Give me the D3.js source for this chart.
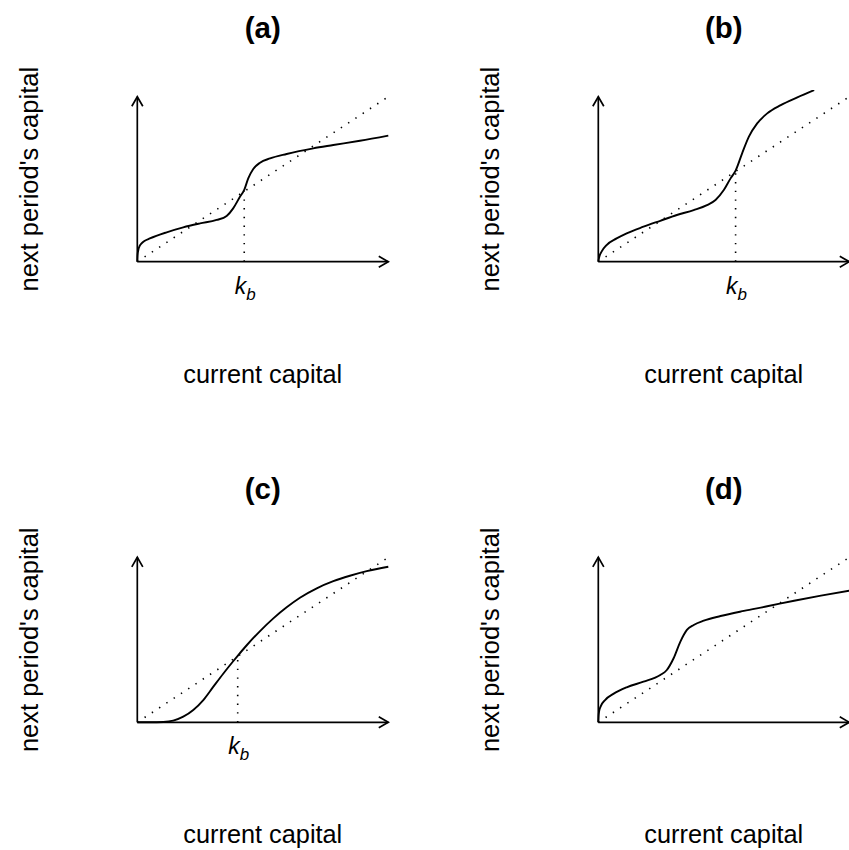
<!DOCTYPE html>
<html>
<head>
<meta charset="utf-8">
<script src="https://cdn.jsdelivr.net/npm/d3@7"></script>
<style>
  html, body { margin: 0; padding: 0; background: #fff; }
  svg { display: block; }
  text { font-family: "Liberation Sans", Arial, Helvetica, sans-serif; fill: #000; }
</style>
</head>
<body>
<svg id="fig" width="849" height="850"></svg>
<script>
// Capital transition curves k' = f(k) for four cases.
const panelTitles = ["(a)", "(b)", "(c)", "(d)"];
const xLabel = "current capital";
const yLabel = "next period's capital";

const capitalA = [0, 0.001, 0.004, 0.009, 0.017, 0.030, 0.050, 0.117, 0.183, 0.250, 0.316, 0.356, 0.382, 0.409, 0.426, 0.442, 0.462, 0.489, 0.529, 0.595, 0.701, 0.781, 0.887, 1.0];
const nextA    = [0, 0.038, 0.071, 0.094, 0.111, 0.127, 0.141, 0.178, 0.208, 0.232, 0.253, 0.277, 0.323, 0.394, 0.435, 0.505, 0.562, 0.600, 0.626, 0.653, 0.687, 0.707, 0.733, 0.764];

const capitalB = [0, 0.004, 0.013, 0.033, 0.073, 0.113, 0.180, 0.247, 0.313, 0.380, 0.433, 0.467, 0.500, 0.527, 0.547, 0.573, 0.600, 0.633, 0.673, 0.727, 0.793, 0.860];
const nextB    = [0, 0.030, 0.061, 0.101, 0.141, 0.172, 0.212, 0.248, 0.283, 0.313, 0.343, 0.374, 0.434, 0.505, 0.552, 0.657, 0.758, 0.838, 0.899, 0.949, 0.996, 1.040];

const capitalC = [0, 0.050, 0.104, 0.143, 0.183, 0.223, 0.263, 0.303, 0.343, 0.382, 0.400, 0.436, 0.489, 0.542, 0.595, 0.648, 0.715, 0.781, 0.847, 0.914, 1.0];
const nextC    = [0, 0.000, 0.002, 0.010, 0.034, 0.075, 0.135, 0.216, 0.296, 0.370, 0.403, 0.467, 0.553, 0.630, 0.697, 0.755, 0.812, 0.855, 0.888, 0.916, 0.943];

const capitalD = [0, 0.001, 0.003, 0.009, 0.027, 0.060, 0.113, 0.180, 0.247, 0.273, 0.300, 0.327, 0.353, 0.380, 0.420, 0.487, 0.580, 0.673, 0.780, 0.887, 1.0];
const nextD    = [0, 0.035, 0.065, 0.095, 0.135, 0.172, 0.212, 0.246, 0.287, 0.317, 0.388, 0.489, 0.560, 0.590, 0.616, 0.644, 0.675, 0.703, 0.737, 0.768, 0.798];

// threshold capital k_b (null: no threshold marked)
const thresholds = [0.426, 0.547, 0.400, null];

const panels = [
  { title: panelTitles[0], k: capitalA, f: nextA, kb: thresholds[0], col: 0, row: 0 },
  { title: panelTitles[1], k: capitalB, f: nextB, kb: thresholds[1], col: 1, row: 0 },
  { title: panelTitles[2], k: capitalC, f: nextC, kb: thresholds[2], col: 0, row: 1 },
  { title: panelTitles[3], k: capitalD, f: nextD, kb: thresholds[3], col: 1, row: 1 }
];

// geometry of the 2x2 grid
const originX = [137.3, 598.3];
const originY = [261.7, 722.3];
const unitW = 251, unitH = 165;
const pad = 0.04;

const svg = d3.select("#fig");

function arrow(g, x1, y1, x2, y2) {
  const len = 11, ang = Math.PI / 6;
  const th = Math.atan2(y2 - y1, x2 - x1);
  g.append("line").attr("x1", x1).attr("y1", y1).attr("x2", x2).attr("y2", y2)
    .attr("stroke", "#000").attr("stroke-width", 1.7);
  const p = d3.path();
  p.moveTo(x2 - len * Math.cos(th - ang), y2 - len * Math.sin(th - ang));
  p.lineTo(x2, y2);
  p.lineTo(x2 - len * Math.cos(th + ang), y2 - len * Math.sin(th + ang));
  g.append("path").attr("d", p.toString()).attr("fill", "none")
    .attr("stroke", "#000").attr("stroke-width", 1.7).attr("stroke-linejoin", "miter");
}

panels.forEach((pn, i) => {
  const ox = originX[pn.col], oy = originY[pn.row];
  const x = d3.scaleLinear().domain([-pad, 1 + pad]).range([ox - pad * unitW, ox + (1 + pad) * unitW]);
  const y = d3.scaleLinear().domain([-pad, 1 + pad]).range([oy + pad * unitH, oy - (1 + pad) * unitH]);
  const g = svg.append("g");

  const clipId = "plotclip" + i;
  g.append("clipPath").attr("id", clipId).append("rect")
    .attr("x", x(-pad)).attr("y", y(1 + pad))
    .attr("width", x(1 + pad) - x(-pad)).attr("height", y(-pad) - y(1 + pad));

  // 45-degree line
  g.append("line")
    .attr("x1", x(0)).attr("y1", y(0)).attr("x2", x(1)).attr("y2", y(1))
    .attr("stroke", "#000").attr("stroke-width", 1.6)
    .attr("stroke-dasharray", "1.4,7.3").attr("stroke-linecap", "butt");

  // threshold marker
  if (pn.kb !== null) {
    g.append("line")
      .attr("x1", x(pn.kb)).attr("y1", y(0)).attr("x2", x(pn.kb)).attr("y2", y(pn.kb))
      .attr("stroke", "#000").attr("stroke-width", 1.6)
      .attr("stroke-dasharray", "1.4,7.3");
    const t = g.append("text")
      .attr("x", x(pn.kb) + 1).attr("y", oy + 32)
      .attr("text-anchor", "middle").attr("font-style", "italic");
    t.append("tspan").attr("font-size", 23).text("k");
    t.append("tspan").attr("font-size", 17).attr("dy", 6).text("b");
  }

  // axes
  arrow(g, x(0), y(0), x(1), y(0));
  arrow(g, x(0), y(0), x(0), y(1));

  // transition curve
  const line = d3.line()
    .x((d, j) => x(pn.k[j]))
    .y(d => y(d))
    .curve(d3.curveMonotoneX);
  g.append("path")
    .attr("d", line(pn.f))
    .attr("clip-path", "url(#" + clipId + ")")
    .attr("fill", "none").attr("stroke", "#000").attr("stroke-width", 1.9);

  // titles and axis labels
  const cx = x(0.5);
  g.append("text").attr("x", cx).attr("y", oy - 223.5)
    .attr("text-anchor", "middle").attr("font-weight", "bold").attr("font-size", 29.5)
    .text(pn.title);
  g.append("text").attr("x", cx).attr("y", oy + 121)
    .attr("text-anchor", "middle").attr("font-size", 25.3)
    .text(xLabel);
  g.append("text")
    .attr("transform", `translate(${ox - 99},${y(0.5)}) rotate(-90)`)
    .attr("text-anchor", "middle").attr("font-size", 25.5)
    .text(yLabel);
});
</script>
</body>
</html>
